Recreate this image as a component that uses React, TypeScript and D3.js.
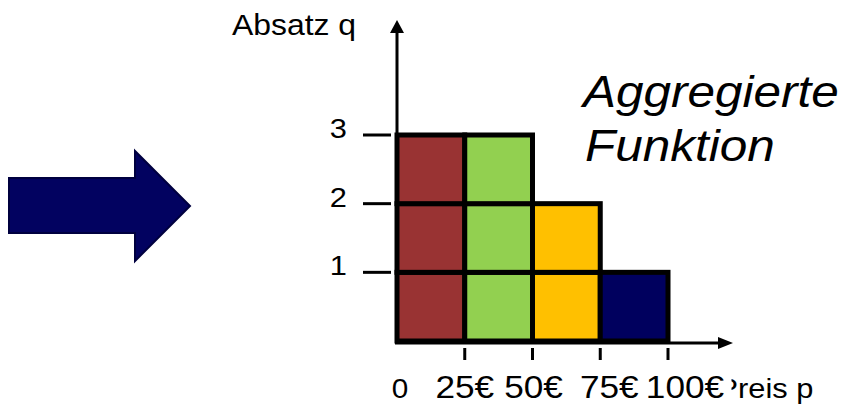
import React from "react";
import * as d3 from "d3";

const priceBins = [0, 25, 50, 75];
const binWidth = 25;
const quantities = [3, 3, 2, 1];
const binColors = ["#993333", "#92d050", "#ffc000", "#00005e"];
const xTickValues = [25, 50, 75, 100];
const xTickLabels = ["0", "25€", "50€", "75€", "100€"];
const xLabelValues = [0, 25, 50, 75, 100];
const yTickValues = [1, 2, 3];
const xAxisTitle = "Preis p";
const yAxisTitle = "Absatz q";
const titleLines = ["Aggregierte", "Funktion"];

const FONT = "'Liberation Sans', Arial, Helvetica, sans-serif";
const SX = 1.1;

function T({ x, y, size, anchor = "start", italic = false, fill = "#000", children }: any) {
  return (
    <text
      transform={`translate(${x},${y}) scale(${SX},1)`}
      fontFamily={FONT}
      fontSize={size}
      fontStyle={italic ? "italic" : "normal"}
      textAnchor={anchor}
      fill={fill}
    >
      {children}
    </text>
  );
}

export default function App() {
  const W = 844, H = 405;
  const x = d3.scaleLinear().domain([0, 100]).range([397, 668]);
  const y = d3.scaleLinear().domain([0, 3]).range([341, 135]);

  const cells: { p: number; q: number; color: string }[] = [];
  priceBins.forEach((p, i) => {
    for (let q = 0; q < quantities[i]; q++) cells.push({ p, q, color: binColors[i] });
  });

  const labelDx = [3, 0, 1, 9, 17];
  const arrow = d3.line()([
    [9, 178], [135, 178], [135, 151], [190, 206], [135, 261], [135, 233], [9, 233],
  ]) + "Z";

  const axisY = 343;
  const xEnd = 733;
  const yTop = 20;

  return (
    <svg width={W} height={H} style={{ position: "absolute", left: 0, top: 0, background: "#fff" }}>
      <rect width={W} height={H} fill="#fff" />
      {/* big arrow */}
      <path d={arrow} fill="#020260" stroke="#00003f" strokeWidth={2} strokeLinejoin="miter" />

      {/* cells */}
      {cells.map((c, i) => (
        <rect
          key={i}
          x={x(c.p)}
          y={y(c.q + 1)}
          width={x(c.p + binWidth) - x(c.p)}
          height={y(c.q) - y(c.q + 1)}
          fill={c.color}
          stroke="#000"
          strokeWidth={5}
        />
      ))}

      {/* y axis */}
      <line x1={x(0)} x2={x(0)} y1={axisY + 1} y2={yTop + 10} stroke="#000" strokeWidth={3} />
      <path d={`M${x(0) - 7},${yTop + 13} L${x(0)},${yTop} L${x(0) + 7},${yTop + 13} Z`} fill="#000" />
      {/* x axis */}
      <line x1={x(0) - 2} x2={xEnd - 10} y1={axisY} y2={axisY} stroke="#000" strokeWidth={3} />
      <path d={`M${xEnd - 15},${axisY - 6} L${xEnd},${axisY} L${xEnd - 15},${axisY + 6} Z`} fill="#000" />

      {/* x ticks */}
      {xTickValues.map((v) => (
        <line key={v} x1={x(v)} x2={x(v)} y1={348} y2={360} stroke="#000" strokeWidth={3} />
      ))}
      {/* y ticks */}
      {yTickValues.map((v) => (
        <line key={v} x1={363} x2={391} y1={y(v)} y2={y(v)} stroke="#000" strokeWidth={3} />
      ))}
      {yTickValues.map((v) => (
        <T key={v} x={347} y={y(v) + 3} size={28} anchor="end">{v}</T>
      ))}

      {/* x axis title (partly hidden behind last label) */}
      <T x={717.5} y={398} size={28}>{xAxisTitle}</T>

      {/* x labels */}
      {xLabelValues.map((v, i) => {
        const cx = x(v) + labelDx[i];
        const small = i === 0;
        return (
          <g key={v}>
            {i === xLabelValues.length - 1 && (
              <rect x={cx - 42} y={366} width={731.5 - (cx - 42)} height={38} fill="#fff" />
            )}
            <T x={cx} y={398} size={small ? 27 : 32} anchor="middle" fill="#000">
              {xTickLabels[i]}
            </T>
          </g>
        );
      })}

      {/* y axis title */}
      <T x={232} y={35} size={29}>{yAxisTitle}</T>

      {/* title */}
      <T x={583} y={107} size={45} italic>{titleLines[0]}</T>
      <T x={585} y={161} size={45} italic>{titleLines[1]}</T>
    </svg>
  );
}
